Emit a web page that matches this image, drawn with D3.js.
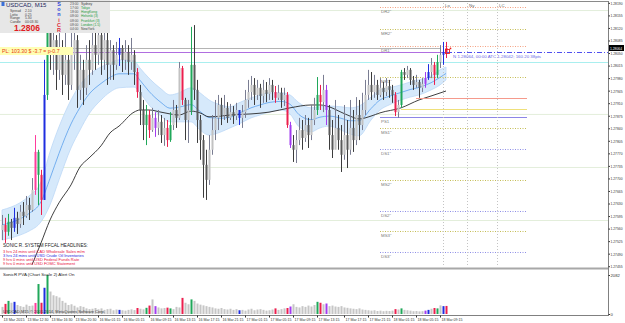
<!DOCTYPE html>
<html>
<head>
<meta charset="utf-8">
<script src="https://cdn.jsdelivr.net/npm/d3@7"></script>
<style>
  html, body { margin:0; padding:0; background:#fff; }
  svg { display:block; font-family:"Liberation Sans", Arial, sans-serif; }
</style>
</head>
<body>
<svg id="chart" width="625" height="323"></svg>
<script>
// USDCAD M15 - prices are in points (0.00001) above 1.27000
const firstOpen = 556;
const closes = [
  570,551,579,562,590,573,607,595,626,612,
  668,774,710,640,933,1114,1045,1086,1003,1058,
  989,1031,961,1045,1086,947,1003,953,1031,1003,
  1072,1045,1100,1031,1086,1017,1058,1017,1045,1064,
  1031,1053,1025,1045,997,941,891,849,877,835,
  869,841,858,821,841,807,849,891,869,1008,
  919,863,891,1017,947,863,807,738,696,780,
  835,869,905,877,897,869,885,874,891,869,
  885,919,941,961,933,953,930,947,936,961,
  941,925,939,919,933,849,793,780,807,835,
  813,849,821,863,891,933,913,947,891,821,
  780,841,807,766,821,780,841,807,877,849,
  891,933,961,941,961,933,953,941,958,947,
  933,885,905,997,989,1003,975,961,969,953,
  964,980,997,1017,989,1025,1045,1053,1064];
const highs = [
  598,590,601,587,618,607,626,634,651,646,
  701,821,780,724,1031,1184,1176,1156,1100,1128,
  1086,1114,1045,1142,1170,1100,1045,1031,1072,1086,
  1128,1142,1165,1128,1156,1114,1086,1072,1081,1092,
  1072,1086,1072,1092,1058,1008,961,919,905,891,
  897,885,891,877,869,863,885,919,905,1025,
  1014,925,919,1123,1128,975,877,821,780,821,
  877,919,933,925,933,913,908,902,911,891,
  905,947,975,986,980,975,964,975,969,980,
  975,958,961,953,953,941,858,821,835,869,
  863,877,869,905,925,983,961,989,961,905,
  863,919,877,849,905,863,919,891,927,919,
  939,975,1003,997,989,975,980,969,980,975,
  961,941,919,1003,1008,1014,1008,986,989,975,
  980,997,1019,1036,1025,1045,1072,1081,1081];
const lows = [
  528,520,540,528,551,545,562,570,590,584,
  607,654,626,598,640,919,1003,989,947,975,
  933,961,919,947,1003,897,919,905,933,961,
  989,1003,1017,989,1003,961,975,975,1003,1014,
  997,1003,989,1003,961,925,849,807,793,813,
  830,816,821,799,791,788,802,835,841,863,
  905,807,799,877,919,799,752,646,640,682,
  766,807,835,849,863,855,863,852,863,849,
  841,869,897,919,905,919,897,911,913,919,
  919,911,919,897,902,841,785,746,743,793,
  780,802,785,807,849,877,891,885,849,780,
  757,793,780,718,752,729,766,774,793,807,
  835,877,919,919,925,919,927,919,930,925,
  911,874,869,897,975,980,961,947,953,925,
  941,953,975,980,961,980,1008,1017,1036];
const volumes = [
  380,540,700,600,650,480,420,380,500,430,
  450,590,1600,600,1400,2080,1200,1000,950,880,
  700,600,480,520,440,350,420,380,300,260,
  280,320,250,300,220,260,280,200,240,220,
  200,180,220,250,210,320,280,250,330,450,
  780,420,350,300,320,340,300,260,380,350,
  860,600,520,780,700,560,500,460,420,380,
  350,300,280,320,260,240,280,220,260,200,
  220,180,240,280,200,240,260,220,180,200,
  240,300,220,260,300,320,400,520,380,350,
  420,380,450,400,480,650,600,520,560,420,
  450,400,380,420,350,330,300,280,260,300,
  240,220,200,180,200,160,180,150,170,160,
  180,260,240,300,220,200,180,150,160,140,
  150,180,220,280,320,300,460,420,430];
// PVA colour class per bar (g green, r red, m magenta, b blue, p violet)
const pvaClass = {1:"r",2:"g",4:"b",11:"m",12:"g",13:"r",14:"b",15:"g",39:"b",45:"r",48:"g",49:"r",
  51:"p",55:"r",56:"g",60:"r",63:"g",79:"b",91:"r",95:"r",96:"p",105:"g",106:"r",108:"p",
  131:"r",133:"g",141:"p",142:"b",144:"r",145:"g",147:"b",148:"r"};

// dragon band (EMA 34 of highs / lows / closes) and EMA 89
const bandBars  = [0,3,6,9,13,16,19,23,26,29,33,36,39,44,46,49,53,56,59,63,66,69,73,76,79,83,86,89,93,96,99,103,106,109,113,116,119,123,126,129,133,136,139,143,146,148];
const bandUpper = [612,620,632,651,690,774,844,919,961,989,1011,1022,1031,1028,1008,980,950,933,939,953,939,919,905,900,911,925,933,939,939,933,911,897,900,902,900,897,902,927,947,953,961,969,975,986,1003,1011];
const bandLower = [528,534,542,553,579,626,696,785,835,880,919,941,953,955,939,905,874,858,858,858,835,821,830,841,852,869,877,885,891,880,844,830,841,846,835,824,819,863,891,905,919,927,933,947,961,975];
const bandMid   = [570,577,587,602,635,700,770,852,898,935,965,982,992,992,974,943,912,896,899,906,887,870,868,871,882,897,905,912,915,907,878,864,871,874,868,861,861,895,919,929,940,948,954,967,982,993];
const emaBars = [10,13,16,19,23,26,29,33,36,39,44,46,49,53,56,59,63,66,69,73,76,83,89,96,103,106,109,113,116,119,123,126,133,139,143,148];
const ema89   = [459,520,584,632,682,732,757,791,827,846,885,891,891,885,880,877,888,883,872,874,877,880,885,897,905,905,900,885,874,866,874,883,897,919,930,944];

// pivot levels
const levelNames  = ["DR2","MR2","DR1","MR1","MS1","DS1","MS2","DS2","MS3","DS3"];
const levelValues = [1178,1117,1070,983,841,782,696,609,553,495];
const dayNames  = ["R","P","PS1"];
const dayValues = [925,894,872];
const dayStart  = [138,133,126];
const pivotFrom = 126, pivotTo = 175;
const roundLevels = [1170,880,732,584];
const bidLevel = 1064, orderLevel = 1053, cyanLevel = 1025;

// sessions
const sessionNames = ["Lo","Ny","LC"];
const sessionBars  = [147,155,165];

// axes
const priceTicks = [1190,1155,1120,1085,1050,1015,980,945,910,875,840,805,770,735,700,665,630,595,560,525,490,455];
const priceTickLabels = ["1.28190","1.28155","1.28120","1.28085","1.28050","1.28015","1.27980","1.27945","1.27910","1.27875","1.27840","1.27805","1.27770","1.27735","1.27700","1.27665","1.27630","1.27595","1.27560","1.27525","1.27490","1.27455"];
const timeLabelBars = [0,8,16,24,32,40,49,57,65,73,81,89,97,105,114,122,130,138,146];
const timeLabels = ["13 Mar 2015","13 Mar 12:30","13 Mar 16:30","13 Mar 20:30","16 Mar 01:15","16 Mar 05:15","16 Mar 09:15","16 Mar 13:15","16 Mar 17:15","16 Mar 21:15","17 Mar 01:15","17 Mar 05:15","17 Mar 09:15","17 Mar 13:15","17 Mar 17:15","17 Mar 21:15","18 Mar 01:15","18 Mar 05:15","18 Mar 09:15"];
const volTicks = [0,2082];

// info panel + headlines
const infoLabels = ["Spread","Lotto","Range","Candle"];
const infoValues = ["2.10","0.25","5.30","00:03:30"];
const sonicLetters = ["S","o","n","i","C","R"];
const sessTimes  = ["23:00","17:00","18:00","08:00","08:00","08:00","04:00"];
const sessCities = ["Sydney","Tokyo","HongKong","Helsinki (3)","Frankfurt (3)","London (1.5)","NewYork"];
const sessOpen   = [false,true,true,true,true,true,false];
const headlines = ["3 hrs 24 mins until CAD Wholesale Sales m/m","3 hrs 24 mins until USD Crude Oil Inventories","9 hrs 0 mins until USD Federal Funds Rate","9 hrs 0 mins until USD FOMC Statement"];
const headlineImpact = ["high","medium","high","high"];

// ---------------------------------------------------------------
const svg = d3.select("#chart");
const axisX = 608, mainBottom = 267, volBottom = 315;
const x  = d3.scaleLinear().domain([0, closes.length - 1]).range([2, 446]);
const y  = d3.scaleLinear().domain([450, 1198]).range([268, 0]);
const yv = d3.scaleLinear().domain([0, 2082]).range([314, 275]);
const tones = { g:"#20a85a", r:"#ec1f4e", m:"#ff3c9c", b:"#1f2ee0", p:"#a23cf0" };
const FONT = "Liberation Sans, Arial, sans-serif";

svg.append("rect").attr("width", 625).attr("height", 323).attr("fill", "#fff");
svg.append("defs").append("clipPath").attr("id", "mainClip")
  .append("rect").attr("x", 0).attr("y", 2).attr("width", axisX).attr("height", mainBottom - 2);

const main = svg.append("g").attr("clip-path", "url(#mainClip)");

// faint round levels
main.selectAll(".rl").data(roundLevels).enter().append("line")
  .attr("x1", 0).attr("x2", axisX)
  .attr("y1", d => y(d) + 0.5).attr("y2", d => y(d) + 0.5)
  .attr("stroke", "#e3eedb").attr("stroke-width", 1);

// dragon band
const band = bandBars.map((b, i) => ({ b, u: bandUpper[i], l: bandLower[i], m: bandMid[i] }));
main.append("path").datum(band)
  .attr("d", d3.area().x(d => x(d.b)).y0(d => y(d.l)).y1(d => y(d.u)).curve(d3.curveMonotoneX))
  .attr("fill", "#d6e9fb").attr("stroke", "#bcd8f6").attr("stroke-width", 0.8);
main.append("path").datum(band)
  .attr("d", d3.line().x(d => x(d.b)).y(d => y(d.m)).curve(d3.curveMonotoneX))
  .attr("fill", "none").attr("stroke", "#5aa0ec").attr("stroke-width", 0.8);

// EMA 89
main.append("path").datum(emaBars.map((b, i) => ({ b, v: ema89[i] })))
  .attr("d", d3.line().x(d => x(d.b)).y(d => y(d.v)).curve(d3.curveMonotoneX))
  .attr("fill", "none").attr("stroke", "#2a2a2a").attr("stroke-width", 0.9);

// horizontal reference lines
function hline(v, x1, x2, color, dash) {
  main.append("line").attr("x1", x1).attr("x2", x2)
    .attr("y1", Math.round(y(v)) + 0.5).attr("y2", Math.round(y(v)) + 0.5)
    .attr("stroke", color).attr("stroke-width", 1)
    .attr("stroke-dasharray", dash || null);
}
hline(cyanLevel, 0, axisX, "#a9efef");
hline(bidLevel, 0, x(146), "#b4b4b4");
hline(orderLevel, 0, x(148), "#b06ee0");
hline(orderLevel, x(148) + 1, axisX, "#5050f0", "5,2,1,2");

// pivot levels
levelNames.forEach((n, i) => {
  const col = n.startsWith("DR") ? "#f4a283" : n.startsWith("DS") ? "#8f8fe6" : "#c4bd55";
  hline(levelValues[i], x(pivotFrom), x(pivotTo), col, "1,1.5");
  main.append("text").attr("x", x(pivotFrom) + 1).attr("y", Math.round(y(levelValues[i])) + 5.5)
    .attr("font-size", 4.4).attr("font-family", FONT).attr("fill", "#7a7a7a").text(n + "\u201D");
});
dayNames.forEach((n, i) => {
  const col = ["#f59a8c", "#efe07a", "#8c86e6"][i];
  hline(dayValues[i], x(dayStart[i]), x(pivotTo), col);
});
main.append("text").attr("x", x(pivotFrom) + 1).attr("y", Math.round(y(dayValues[2])) + 5.5)
  .attr("font-size", 4.4).attr("font-family", FONT).attr("fill", "#7a7a7a").text("PS1");

// session verticals
sessionBars.forEach((b, i) => {
  main.append("line").attr("x1", Math.round(x(b)) + 0.5).attr("x2", Math.round(x(b)) + 0.5)
    .attr("y1", 3).attr("y2", mainBottom)
    .attr("stroke", "#c4c4c4").attr("stroke-dasharray", "1,2");
  main.append("text").attr("x", x(b) + 2).attr("y", 7)
    .attr("font-size", 4.4).attr("font-family", FONT).attr("fill", "#666").text(sessionNames[i]);
});

// candles
const bars = closes.map((c, i) => ({ i, o: i ? closes[i - 1] : firstOpen, h: highs[i], l: lows[i], c, v: volumes[i], k: pvaClass[i] }));
const cg = main.append("g");
bars.forEach(d => {
  const bull = d.c >= d.o;
  const wick = d.k ? tones[d.k] : bull ? "#7a7d92" : "#3c3c3c";
  const body = d.k ? tones[d.k] : bull ? "#c2c2c2" : "#5a5a5a";
  const cx = Math.round(x(d.i));
  cg.append("line").attr("x1", cx + 0.5).attr("x2", cx + 0.5)
    .attr("y1", y(d.h)).attr("y2", y(d.l)).attr("stroke", wick).attr("stroke-width", 1);
  const top = y(Math.max(d.o, d.c)), bot = y(Math.min(d.o, d.c));
  cg.append("rect").attr("x", cx - 0.5).attr("width", 2)
    .attr("y", top).attr("height", Math.max(1, bot - top)).attr("fill", body);
});

// last-bar marker
main.append("rect").attr("x", x(148) - 0.5).attr("y", y(orderLevel) - 2.5)
  .attr("width", 4).attr("height", 4).attr("fill", "none").attr("stroke", "#e82020").attr("stroke-width", 0.9);
main.append("circle").attr("cx", x(148) + 4.5).attr("cy", y(orderLevel) - 3.5).attr("r", 0.9).attr("fill", "#e82020");

// order text on the dash-dot line
main.append("text").attr("x", 453).attr("y", Math.round(y(orderLevel)) + 5.5)
  .attr("font-size", 4.4).attr("font-family", FONT).attr("fill", "#6a6ae6")
  .text("N 1.28064, 00:00 ATC 1.28042; 160.20 38pts");

// P/L badge
main.append("rect").attr("x", 0).attr("y", 47).attr("width", 73).attr("height", 8).attr("fill", "#ffffb4");
main.append("text").attr("x", 2).attr("y", 53.3).attr("font-size", 5.2).attr("font-family", FONT)
  .attr("fill", "#e83a10").text("PL: 103.30 $ -3.7 = p-0.7");

// info panel
const info = svg.append("g");
info.append("rect").attr("x", 0).attr("y", 0).attr("width", 110).attr("height", 33).attr("fill", "#e7e7e7");
info.append("rect").attr("x", 1.5).attr("y", 2).attr("width", 3).attr("height", 4).attr("fill", "#3a6fd8");
info.append("text").attr("x", 6).attr("y", 6.5).attr("font-size", 6).attr("font-family", FONT)
  .attr("fill", "#1b1f5c").text("USDCAD, M15");
infoLabels.forEach((t, i) => {
  info.append("text").attr("x", 10).attr("y", 12 + i * 3.5).attr("font-size", 3.4).attr("font-family", FONT).attr("fill", "#444").text(t);
  info.append("text").attr("x", 25).attr("y", 12 + i * 3.5).attr("font-size", 3.4).attr("font-family", FONT).attr("fill", "#444").text(infoValues[i]);
});
info.append("text").attr("x", 14).attr("y", 31).attr("font-size", 8.5).attr("font-weight", "bold")
  .attr("font-family", FONT).attr("fill", "#e01c24").text("1.2806");
sonicLetters.forEach((t, i) => {
  info.append("text").attr("x", 59).attr("y", 6 + i * 5.2).attr("font-size", 5.4).attr("font-weight", "bold")
    .attr("text-anchor", "middle").attr("font-family", FONT)
    .attr("fill", i < 3 ? "#2a3fd8" : "#e02a3a").text(t);
});
sessTimes.forEach((t, i) => {
  info.append("text").attr("x", 70).attr("y", 4.8 + i * 4.2).attr("font-size", 3.4).attr("font-family", FONT).attr("fill", "#555").text(t);
  info.append("text").attr("x", 81).attr("y", 4.8 + i * 4.2).attr("font-size", 3.4).attr("font-family", FONT)
    .attr("fill", sessOpen[i] ? "#1c9a3c" : "#444").text(sessCities[i]);
});

// headlines block
svg.append("text").attr("x", 3).attr("y", 247).attr("font-size", 4.6).attr("font-family", FONT)
  .attr("fill", "#222").text("SONIC R. SYSTEM  FFCAL HEADLINES:");
headlines.forEach((t, i) => {
  svg.append("text").attr("x", 3).attr("y", 252.6 + i * 4.2).attr("font-size", 4).attr("font-family", FONT)
    .attr("fill", headlineImpact[i] === "high" ? "#e8103c" : "#2626e0").text(t);
});

// volume panel
const vg = svg.append("g");
bars.forEach(d => {
  const cx = Math.round(x(d.i));
  vg.append("rect").attr("x", cx - 0.5).attr("width", 2)
    .attr("y", yv(d.v)).attr("height", yv(0) - yv(d.v))
    .attr("fill", d.k ? tones[d.k] : "#c6c6c6");
});
svg.append("text").attr("x", 3).attr("y", 275.5).attr("font-size", 4.4).attr("font-family", FONT)
  .attr("fill", "#222").text("SonicR PVA  (Chart Scale 2)      Alert On");
svg.append("text").attr("x", 3).attr("y", 312.5).attr("font-size", 4).attr("font-family", FONT)
  .attr("fill", "#333").text("USDCAD,M15  \u00A9 2001-2014, MetaQuotes Software Corp.");

// frames
svg.append("line").attr("x1", 0).attr("x2", axisX).attr("y1", 1.5).attr("y2", 1.5).attr("stroke", "#8a8a8a");
svg.append("rect").attr("x", 0).attr("y", mainBottom + 0.5).attr("width", axisX).attr("height", 2).attr("fill", "#a8a8a8");
svg.append("line").attr("x1", 0).attr("x2", axisX).attr("y1", volBottom + 0.5).attr("y2", volBottom + 0.5).attr("stroke", "#808080");
svg.append("line").attr("x1", axisX + 0.5).attr("x2", axisX + 0.5).attr("y1", 1).attr("y2", volBottom + 1).attr("stroke", "#808080");

// price axis
const yAxis = d3.axisRight(y).tickValues(priceTicks)
  .tickFormat((d, i) => priceTickLabels[i]).tickSize(1.5).tickPadding(0.5);
svg.append("g").attr("transform", `translate(${axisX + 0.5},0)`).call(yAxis)
  .attr("font-size", 4.2).attr("font-family", FONT).attr("color", "#333")
  .call(g => g.select(".domain").remove())
  .call(g => g.selectAll("text").attr("textLength", 12).attr("lengthAdjust", "spacingAndGlyphs"));

// current price box
svg.append("rect").attr("x", axisX + 1).attr("y", y(bidLevel) - 3).attr("width", 15).attr("height", 6).attr("fill", "#000");
svg.append("text").attr("x", axisX + 2).attr("y", y(bidLevel) + 1.6).attr("font-size", 4.2)
  .attr("textLength", 12).attr("lengthAdjust", "spacingAndGlyphs")
  .attr("font-family", FONT).attr("fill", "#fff").text("1.28064");

// volume axis
svg.append("g").attr("transform", `translate(${axisX + 0.5},0)`)
  .call(d3.axisRight(yv).tickValues(volTicks).tickFormat(d => d).tickSize(1.5).tickPadding(0.5))
  .attr("font-size", 4.2).attr("font-family", FONT).attr("color", "#333")
  .call(g => g.select(".domain").remove());

// time axis
svg.append("g").attr("transform", `translate(0,${volBottom + 0.5})`)
  .call(d3.axisBottom(x).tickValues(timeLabelBars).tickFormat((d, i) => timeLabels[i]).tickSize(2).tickPadding(1))
  .attr("font-size", 4).attr("font-family", FONT).attr("color", "#333")
  .call(g => g.select(".domain").remove())
  .call(g => g.selectAll("text").attr("text-anchor", "start").attr("x", 1)
    .attr("textLength", 21).attr("lengthAdjust", "spacingAndGlyphs"));
</script>
</body>
</html>
